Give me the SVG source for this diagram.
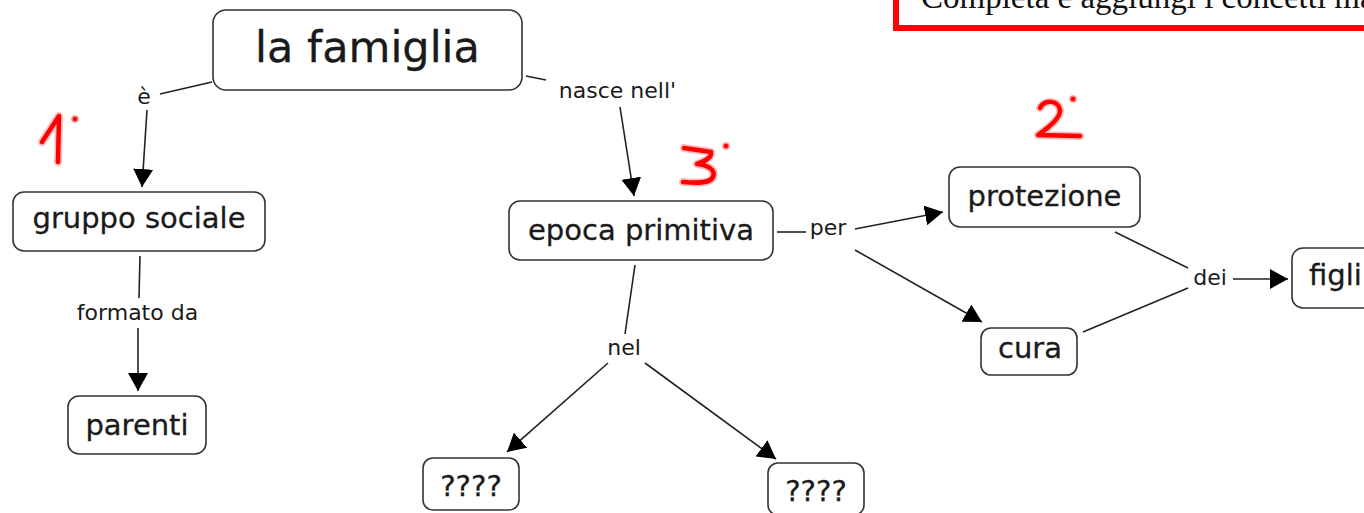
<svg xmlns="http://www.w3.org/2000/svg" width="1364" height="513" viewBox="0 0 1364 513">
  <style>
    .node rect { fill: #ffffff; stroke: #333333; stroke-width: 1.6; }
    .node text { font-family: "DejaVu Sans", Verdana, sans-serif; font-size: 29px; fill: #1a1a1a; stroke: #1a1a1a; stroke-width: 0.3; text-anchor: middle; }
    .label { font-family: "DejaVu Sans", Verdana, sans-serif; font-size: 22px; fill: #1a1a1a; text-anchor: middle; }
    .conn { stroke: #222222; stroke-width: 1.6; fill: none; }
    .arrow { marker-end: url(#head); }
    .hand { fill: none; stroke-linecap: round; stroke-linejoin: round; }
    .hand .halo { stroke: #ff9090; stroke-width: 8; opacity: 0.6; }
    .hand .ink { stroke: #ff0000; stroke-width: 4.5; }
    .hand circle { fill: #ff0000; stroke: #ff9090; stroke-width: 1.5; }
  </style>
  <defs>
    <marker id="head" viewBox="0 0 18 20" refX="18" refY="10" markerWidth="18" markerHeight="20" markerUnits="userSpaceOnUse" orient="auto">
      <path d="M0,0 L18,10 L0,20 z" fill="#000000"/>
    </marker>
  </defs>

  <rect width="1364" height="513" fill="#ffffff"/>

  <!-- instruction box, partly outside the canvas -->
  <g id="istruzioni">
    <rect x="896" y="-20" width="520" height="48" fill="#ffffff" stroke="#ff0000" stroke-width="6"/>
    <text x="921" y="8" font-family="'Liberation Serif', 'Times New Roman', serif" font-size="33" fill="#111111">Completa e aggiungi i concetti mancanti</text>
  </g>

  <!-- connectors and linking phrases -->
  <g id="connectors">
    <!-- la famiglia — è — gruppo sociale -->
    <line class="conn" x1="212" y1="82" x2="160" y2="94"/>
    <text class="label" x="144" y="104">è</text>
    <line class="conn arrow" x1="147" y1="110" x2="142" y2="187"/>

    <!-- gruppo sociale — formato da — parenti -->
    <line class="conn" x1="140" y1="256" x2="139" y2="298"/>
    <text class="label" x="137.5" y="320">formato da</text>
    <line class="conn arrow" x1="138" y1="328" x2="138" y2="391"/>

    <!-- la famiglia — nasce nell' — epoca primitiva -->
    <line class="conn" x1="526" y1="76" x2="546" y2="80"/>
    <text class="label" x="617.5" y="98">nasce nell'</text>
    <line class="conn arrow" x1="620" y1="107" x2="634" y2="196"/>

    <!-- epoca primitiva — per — protezione / cura -->
    <line class="conn" x1="777" y1="232" x2="806" y2="232"/>
    <text class="label" x="828" y="235">per</text>
    <line class="conn arrow" x1="855" y1="229" x2="943" y2="212"/>
    <line class="conn arrow" x1="855" y1="250" x2="982" y2="322"/>

    <!-- protezione / cura — dei — figli -->
    <line class="conn" x1="1115" y1="232" x2="1188" y2="268"/>
    <line class="conn" x1="1083" y1="332" x2="1188" y2="288"/>
    <text class="label" x="1210" y="285">dei</text>
    <line class="conn arrow" x1="1233" y1="279" x2="1288" y2="279"/>

    <!-- epoca primitiva — nel — ???? / ???? -->
    <line class="conn" x1="635" y1="265" x2="625" y2="334"/>
    <text class="label" x="624" y="355">nel</text>
    <line class="conn arrow" x1="608" y1="363" x2="507" y2="452"/>
    <line class="conn arrow" x1="645" y1="363" x2="776" y2="459"/>
  </g>

  <!-- concepts -->
  <g id="n-famiglia" class="node">
    <rect x="213" y="10" width="309" height="80" rx="13"/>
    <text x="367.5" y="62" style="font-size:43px">la famiglia</text>
  </g>
  <g id="n-gruppo" class="node">
    <rect x="13" y="192" width="252" height="59" rx="11"/>
    <text x="139" y="228">gruppo sociale</text>
  </g>
  <g id="n-parenti" class="node">
    <rect x="68" y="396" width="138" height="58" rx="11"/>
    <text x="137" y="435">parenti</text>
  </g>
  <g id="n-epoca" class="node">
    <rect x="509" y="201" width="264" height="59" rx="11"/>
    <text x="641" y="240">epoca primitiva</text>
  </g>
  <g id="n-protezione" class="node">
    <rect x="949" y="167" width="191" height="60" rx="11"/>
    <text x="1044.5" y="206">protezione</text>
  </g>
  <g id="n-cura" class="node">
    <rect x="981" y="328" width="96" height="47" rx="10"/>
    <text x="1030" y="358">cura</text>
  </g>
  <g id="n-figli" class="node">
    <rect x="1292" y="248" width="110" height="60" rx="11"/>
    <text x="1309" y="285" style="text-anchor:start">figli</text>
  </g>
  <g id="n-q1" class="node">
    <rect x="423" y="458" width="96" height="52" rx="10"/>
    <text x="471" y="496">????</text>
  </g>
  <g id="n-q2" class="node">
    <rect x="768" y="463" width="96" height="52" rx="10"/>
    <text x="816" y="501">????</text>
  </g>

  <!-- handwritten step numbers -->
  <g id="step-1" class="hand">
    <path class="halo" d="M42,142 L59,116 L58,162"/>
    <path class="ink" d="M42,142 L59,116 L58,162"/>
    <circle cx="75" cy="119" r="3"/>
  </g>
  <g id="step-2" class="hand">
    <path class="halo" d="M1040,108 C1044,100 1058,99 1060,110 C1061,118 1048,128 1038,135 L1080,136"/>
    <path class="ink" d="M1040,108 C1044,100 1058,99 1060,110 C1061,118 1048,128 1038,135 L1080,136"/>
    <circle cx="1073" cy="99" r="3"/>
  </g>
  <g id="step-3" class="hand">
    <path class="halo" d="M684,148 L711,152 C712,158 703,162 697,164 C708,165 716,170 713,177 C710,184 695,183 683,182"/>
    <path class="ink" d="M684,148 L711,152 C712,158 703,162 697,164 C708,165 716,170 713,177 C710,184 695,183 683,182"/>
    <circle cx="726" cy="146" r="3"/>
  </g>
</svg>
